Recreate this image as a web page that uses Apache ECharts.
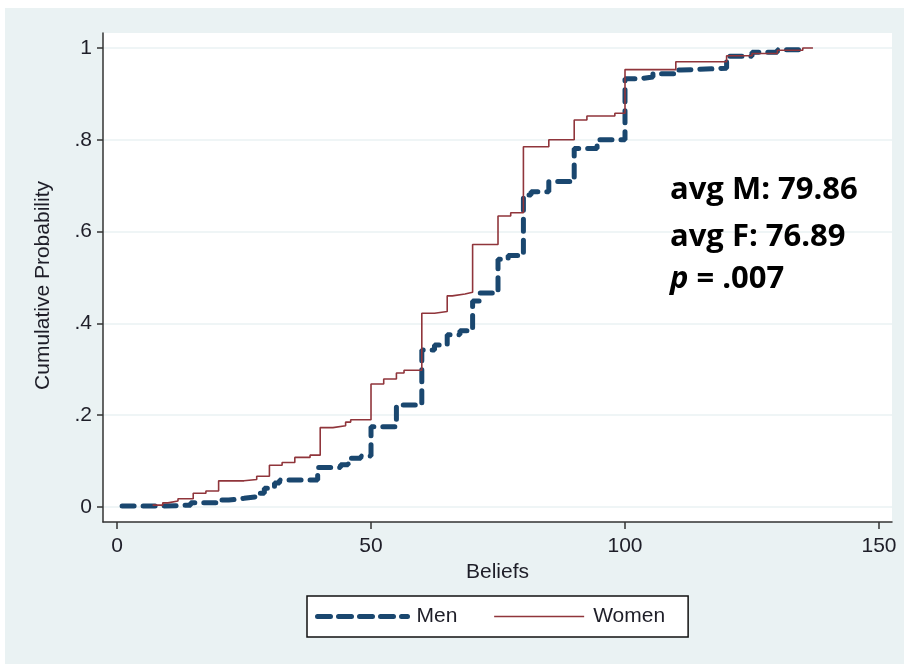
<!DOCTYPE html>
<html>
<head>
<meta charset="utf-8">
<script src="https://cdn.jsdelivr.net/npm/echarts@6/dist/echarts.min.js"></script>
<style>
  html, body { margin: 0; padding: 0; background: #fff; }
  #chart {
    width: 904px; height: 664px;
    background:
      linear-gradient(#fff, #fff) top left / 100% 8px no-repeat,
      linear-gradient(#fff, #fff) top left / 5px 100% no-repeat,
      #EAF2F3;
  }
</style>
</head>
<body>
<div id="chart"></div>
<script>
// Empirical cumulative distribution of beliefs, by gender
const menBeliefs = [1, 9, 14.5, 19.5, 22, 25, 27.5, 29, 31, 32, 39.5, 44, 45.5, 48, 50, 55, 60, 62.5, 65, 67.5, 70, 71.5, 75, 77, 80, 81.5, 85, 90, 94.5, 100, 103, 105.5, 110, 111, 120, 125, 130, 135];
const menCum     = [0.002, 0.004, 0.009, 0.015, 0.019, 0.0225, 0.030, 0.041, 0.052, 0.059, 0.086, 0.092, 0.106, 0.111, 0.175, 0.222, 0.342, 0.353, 0.375, 0.384, 0.449, 0.466, 0.540, 0.548, 0.680, 0.687, 0.709, 0.781, 0.800, 0.933, 0.937, 0.944, 0.952, 0.956, 0.982, 0.991, 0.996, 1.0];

const womenBeliefs = [7, 9, 10, 12, 15, 17.5, 20, 25, 27.5, 30, 32.5, 35, 38, 40, 42.5, 45, 46, 50, 52.5, 55, 56.5, 60, 62.5, 65, 66, 68.5, 70, 75, 77.5, 80, 85, 90, 92.5, 98, 100, 110, 120, 125, 130, 135, 137];
const womenCum     = [0.004, 0.009, 0.013, 0.018, 0.030, 0.035, 0.057, 0.060, 0.067, 0.091, 0.097, 0.108, 0.113, 0.173, 0.177, 0.185, 0.190, 0.268, 0.279, 0.292, 0.298, 0.422, 0.426, 0.460, 0.464, 0.468, 0.572, 0.634, 0.641, 0.785, 0.800, 0.843, 0.852, 0.858, 0.953, 0.970, 0.983, 0.988, 0.995, 1.0, 1.0];

const xTicks = [0, 50, 100, 150];
const yTicks = [0, 0.2, 0.4, 0.6, 0.8, 1];

const stats = { avgM: '79.86', avgF: '76.89', p: '.007' };

const pairs = (xs, ys) => xs.map((x, i) => [x, ys[i]]);
const FONT = '"Liberation Sans", Arial, sans-serif';
const NOTE_FONT = '"Open Sans", "Noto Sans", sans-serif';
const TEXT = '#1e1e28';
const MEN = '#1a476f';
const WOMEN = '#90353b';

const chart = echarts.init(document.getElementById('chart'), null, { renderer: 'canvas' });

chart.setOption({
  backgroundColor: 'transparent',
  animation: false,
  textStyle: { fontFamily: FONT },
  grid: {
    left: 103, right: 12, top: 33, bottom: 142,
    show: true, backgroundColor: '#ffffff', borderWidth: 0,
    containLabel: false
  },
  xAxis: {
    type: 'value',
    min: -2.76, max: 152.56,
    name: 'Beliefs',
    nameLocation: 'middle',
    nameGap: 38,
    nameTextStyle: { fontSize: 21, color: TEXT, fontFamily: FONT },
    axisLine: { show: true, onZero: false, lineStyle: { color: '#333', width: 1.5 } },
    axisTick: { show: true, customValues: xTicks, length: 7, lineStyle: { color: '#333', width: 1.5 } },
    axisLabel: { customValues: xTicks, fontSize: 21, color: TEXT, margin: 14, fontFamily: FONT },
    splitLine: { show: false }
  },
  yAxis: {
    type: 'value',
    min: -0.0327, max: 1.0327,
    name: 'Cumulative Probability',
    nameLocation: 'middle',
    nameGap: 49,
    nameRotate: 90,
    nameTextStyle: { fontSize: 21, color: TEXT, fontFamily: FONT, padding: [0, 16, 0, 0] },
    axisLine: { show: true, onZero: false, lineStyle: { color: '#333', width: 1.5 } },
    axisTick: { show: true, customValues: yTicks, length: 6, lineStyle: { color: '#333', width: 1.5 } },
    axisLabel: {
      customValues: yTicks, fontSize: 21, color: TEXT, margin: 11, fontFamily: FONT,
      formatter: v => (v === 0 ? '0' : v === 1 ? '1' : String(v).replace(/^0\./, '.'))
    },
    splitLine: { show: true, lineStyle: { color: '#EAF2F3', width: 1.5 } }
  },
  legend: {
    left: 307, top: 596,
    orient: 'horizontal',
    backgroundColor: '#ffffff',
    borderColor: '#111',
    borderWidth: 1.5,
    borderRadius: 0,
    padding: [10, 23, 10, 8],
    itemWidth: 90,
    itemHeight: 14,
    itemGap: 36,
    itemStyle: { opacity: 0 },
    textStyle: { fontSize: 21, color: TEXT, fontFamily: FONT, padding: [0, 0, 0, 4] },
    data: [
      { name: 'Men', lineStyle: { color: MEN, width: 5, type: [13, 8], cap: 'round' } },
      { name: 'Women', lineStyle: { color: WOMEN, width: 1.6 } }
    ]
  },
  graphic: [
    {
      type: 'text', x: 670, y: 190, z: 10,
      style: { text: 'avg M: ' + stats.avgM, font: 'bold 31px ' + NOTE_FONT, fill: '#000', verticalAlign: 'middle' }
    },
    {
      type: 'text', x: 670, y: 237, z: 10,
      style: { text: 'avg F: ' + stats.avgF, font: 'bold 31px ' + NOTE_FONT, fill: '#000', verticalAlign: 'middle' }
    },
    {
      type: 'text', x: 670, y: 279, z: 10,
      style: {
        text: '{i|p} = ' + stats.p,
        font: 'bold 31px ' + NOTE_FONT,
        fill: '#000',
        verticalAlign: 'middle',
        rich: { i: { fontStyle: 'italic', fontWeight: 'bold', fontSize: 31, fontFamily: NOTE_FONT, fill: '#000' } }
      }
    }
  ],
  series: [
    {
      name: 'Men',
      type: 'line',
      step: 'end',
      symbol: 'none',
      data: pairs(menBeliefs, menCum),
      lineStyle: { color: MEN, width: 5, type: [12, 9], cap: 'round' },
      itemStyle: { color: MEN },
      z: 3
    },
    {
      name: 'Women',
      type: 'line',
      step: 'end',
      symbol: 'none',
      data: pairs(womenBeliefs, womenCum),
      lineStyle: { color: WOMEN, width: 1.6 },
      itemStyle: { color: WOMEN },
      z: 4
    }
  ]
});
</script>
</body>
</html>
